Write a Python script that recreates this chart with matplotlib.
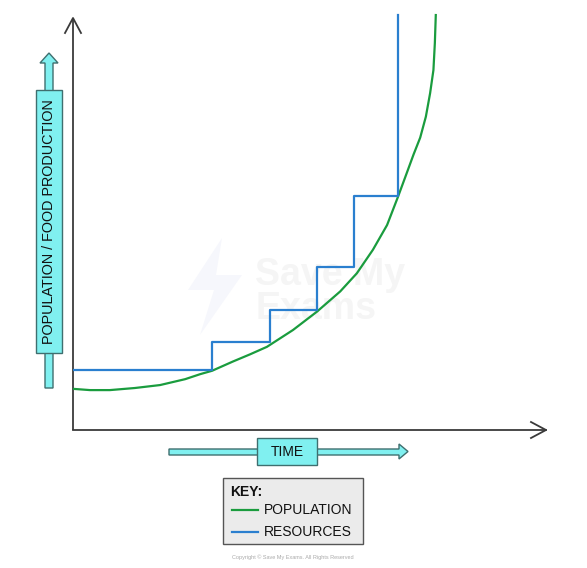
import matplotlib
matplotlib.use("Agg")
import matplotlib.pyplot as plt
from matplotlib.patches import Rectangle, Polygon

# ---- data (arbitrary units: time 0-100, amount 0-100) ----
pop_time = [0, 3.6, 7.8, 13.1, 18.4, 23.7, 26.9, 29.4, 33.8, 37.4, 41.0, 46.5,
            51.6, 56.5, 60.0, 63.4, 66.4, 68.7, 70.6, 72.0, 73.4, 74.6, 75.5,
            76.2, 76.5, 76.7]
pop_value = [9.8, 9.5, 9.5, 10.0, 10.7, 12.1, 13.3, 14.1, 16.3, 18.0, 19.8, 23.8,
             28.2, 33.0, 37.3, 42.9, 48.8, 55.5, 61.3, 65.6, 69.6, 74.6, 80.2,
             85.7, 92.1, 98.8]
res_time = [0, 29.4, 41.6, 51.5, 59.4, 68.7]
res_value = [14.3, 21.0, 28.6, 38.8, 55.7, 98.8]

y_label = "POPULATION / FOOD PRODUCTION"
x_label = "TIME"
key_title = "KEY:"
series_names = ["POPULATION", "RESOURCES"]
colors = ["#1a9c3e", "#2a7fcf"]

W, H = 587, 568
fig = plt.figure(figsize=(W / 100, H / 100), dpi=100)
plt.rcParams['font.family'] = ['Liberation Sans', 'DejaVu Sans']

# overlay in pixel coordinates for decorations
ov = fig.add_axes([0, 0, 1, 1])
ov.set_xlim(0, W)
ov.set_ylim(H, 0)
ov.axis('off')

axc = '#3a3a3a'
# watermark
ov.text(255, 292, "Save My\nExams", fontsize=27, fontweight='bold', color='#f5f5f5',
        ha='left', va='center', linespacing=0.95, zorder=0)
ov.add_patch(Polygon([(222, 238), (188, 290), (214, 290), (200, 335), (242, 275), (216, 275)],
                     closed=True, facecolor='#f6f7fc', edgecolor='none', zorder=0))

# axes lines with open arrow heads
ov.plot([73, 73], [430, 18], color=axc, lw=1.3, solid_capstyle='butt')
ov.plot([65, 73, 81], [33, 18, 33], color=axc, lw=1.3)
ov.plot([73, 546], [430, 430], color=axc, lw=1.3)
ov.plot([531, 546, 531], [422, 430, 438], color=axc, lw=1.3)

cyan = '#80f0f0'
edge = '#3f6f6f'
# y label arrow
ov.add_patch(Polygon([(45, 388), (45, 63), (40, 63), (49, 53), (58, 63), (53, 63), (53, 388)],
                     closed=True, facecolor=cyan, edgecolor=edge, lw=1.0))
ov.add_patch(Rectangle((36, 90), 26, 263, facecolor=cyan, edgecolor=edge, lw=1.0))
ov.text(49, 221.5, y_label, rotation=90, ha='center', va='center', fontsize=10.4, color='#111')

# x label arrow
ov.add_patch(Polygon([(169, 449), (399, 449), (399, 444), (408, 451.5), (399, 459), (399, 455), (169, 455)],
                     closed=True, facecolor=cyan, edgecolor=edge, lw=1.0))
ov.add_patch(Rectangle((257, 438), 60, 27, facecolor=cyan, edgecolor=edge, lw=1.0))
ov.text(287, 452, x_label, ha='center', va='center', fontsize=10, color='#111')

# key
ov.add_patch(Rectangle((223, 478), 140, 66, facecolor='#ebebeb', edgecolor='#555', lw=1.0))
ov.text(230, 492, key_title, ha='left', va='center', fontsize=10, color='#111', fontweight='bold')
for i, (nm, c) in enumerate(zip(series_names, colors)):
    yy = 510 + 21.5 * i
    ov.plot([232, 258], [yy, yy], color=c, lw=1.6)
    ov.text(264, yy, nm, ha='left', va='center', fontsize=10, color='#111')

ov.text(293, 557, "Copyright \u00a9 Save My Exams. All Rights Reserved", ha='center', va='center',
        fontsize=4, color='#aaaaaa')

# data axes
ax = fig.add_axes([73 / W, (H - 430) / H, 473 / W, 420 / H])
ax.set_xlim(0, 100)
ax.set_ylim(0, 100)
ax.axis('off')
ax.patch.set_alpha(0)
ax.plot(pop_time, pop_value, color=colors[0], lw=1.6, solid_joinstyle='round')
ax.plot(res_time, res_value, color=colors[1], lw=1.6, drawstyle='steps-post')

fig.savefig("out.png", dpi=100)
